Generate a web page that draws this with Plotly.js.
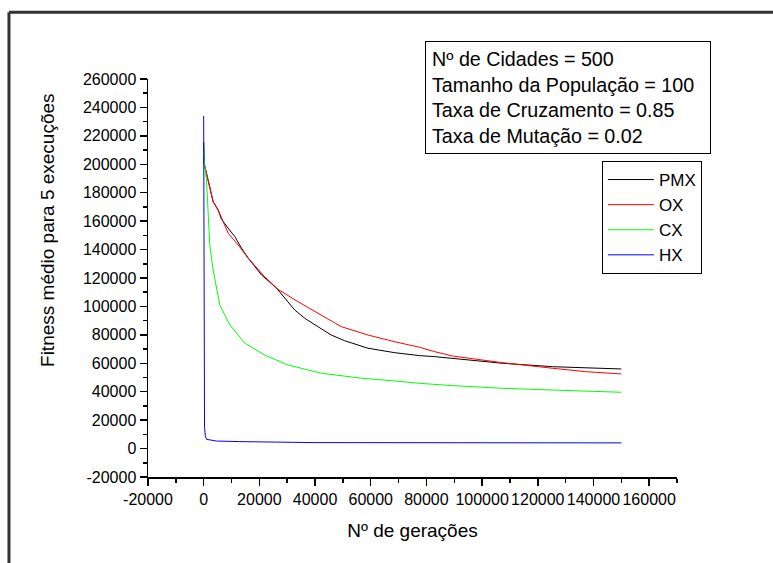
<!DOCTYPE html>
<html>
<head>
<meta charset="utf-8">
<script src="https://cdn.plot.ly/plotly-3.0.1.min.js"></script>
<style>html,body{margin:0;padding:0;background:#fff;}#chart{width:773px;height:563px;}</style>
</head>
<body>
<div id="chart"></div>
<script>
// ---- data ----
const seriesNames = ["PMX", "OX", "CX", "HX"];
const seriesColors = ["#000000", "#ff0000", "#00ff00", "#0000ff"];

const pmxX = [0, 200, 1000, 3400, 5200, 6400, 8800, 11200, 13600, 16000, 20800, 26100, 32700, 36300, 41000, 45800, 50600, 59000, 68500, 77500, 82900, 89400, 107400, 125300, 137200, 150000];
const pmxY = [215500, 200000, 193700, 173700, 167800, 161300, 155000, 149100, 140900, 133900, 122100, 113000, 97500, 91700, 85800, 79900, 75900, 70600, 67500, 65400, 64700, 63500, 60000, 57600, 56900, 56000];

const oxX = [0, 200, 1000, 3400, 5200, 7600, 8800, 12400, 16000, 21900, 26700, 33900, 39200, 42300, 49400, 59000, 68500, 77500, 82900, 89400, 107400, 125300, 137200, 150000];
const oxY = [205300, 200000, 193700, 173700, 167800, 157300, 151500, 143200, 133900, 120900, 112000, 103300, 97500, 94000, 85800, 79900, 75200, 71300, 68200, 65100, 60400, 56500, 54100, 52500];

const cxX = [0, 300, 1000, 1600, 2200, 3400, 5800, 9400, 14800, 21900, 30300, 42300, 56600, 68500, 77500, 89400, 107400, 125300, 150000];
const cxY = [209000, 200000, 189000, 165500, 143000, 125600, 101000, 87000, 74100, 65800, 58800, 53000, 49500, 47600, 45900, 44300, 42400, 41200, 39600];

const hxX = [0, 100, 300, 600, 1040, 4600, 13000, 39200, 150000];
const hxY = [234000, 25000, 15000, 9000, 6500, 5300, 4900, 4200, 4000];

const xTickVals = [-20000, 0, 20000, 40000, 60000, 80000, 100000, 120000, 140000, 160000];
const xTickText = ["-20000", "0", "20000", "40000", "60000", "80000", "100000", "120000", "140000", "160000"];
const yTickVals = [-20000, 0, 20000, 40000, 60000, 80000, 100000, 120000, 140000, 160000, 180000, 200000, 220000, 240000, 260000];
const yTickText = ["-20000", "0", "20000", "40000", "60000", "80000", "100000", "120000", "140000", "160000", "180000", "200000", "220000", "240000", "260000"];

const infoLines = ["Nº de Cidades = 500", "Tamanho da População = 100", "Taxa de Cruzamento = 0.85", "Taxa de Mutação = 0.02"];
const xTitle = "Nº de gerações";
const yTitle = "Fitness médio para 5 execuções";

// ---- chart ----
const xs = [pmxX, oxX, cxX, hxX];
const ys = [pmxY, oxY, cxY, hxY];
const traces = seriesNames.map((n, i) => ({
  x: xs[i], y: ys[i], name: n, type: "scatter", mode: "lines",
  line: {color: seriesColors[i], width: 1}
}));

const font = {family: "Liberation Sans, Arial, sans-serif", color: "#000"};
const axisCommon = {
  showgrid: false, zeroline: false, showline: true, linecolor: "#000", linewidth: 1.5,
  ticks: "outside", ticklen: 7, tickwidth: 1.5, tickcolor: "#000",
  tickfont: {family: font.family, size: 16, color: "#000"},
  tickmode: "array", tickangle: 0,
  minor: {tickmode: "linear", tick0: 0, dtick: 10000, ticks: "outside", ticklen: 4, tickwidth: 1.5, tickcolor: "#000", showgrid: false}
};

const layout = {
  width: 773, height: 563,
  margin: {l: 148, r: 96, t: 79, b: 86},
  paper_bgcolor: "#fff", plot_bgcolor: "#fff",
  font: font,
  showlegend: true,
  legend: {
    x: 0.858, y: 0.794, xanchor: "left", yanchor: "top",
    bordercolor: "#000", borderwidth: 1, bgcolor: "#fff",
    font: {family: font.family, size: 17, color: "#000"},
    itemwidth: 46, tracegroupgap: 0
  },
  xaxis: Object.assign({}, axisCommon, {
    range: [-20000, 170000], tickvals: xTickVals, ticktext: xTickText,
    title: {text: xTitle, font: {family: font.family, size: 19, color: "#000"}, standoff: 17}
  }),
  yaxis: Object.assign({}, axisCommon, {
    range: [-20000, 260000], tickvals: yTickVals, ticktext: yTickText
  }),
  annotations: [
    {
      xref: "paper", yref: "paper", x: 0.5236, y: 1.0955, xanchor: "left", yanchor: "top",
      text: infoLines.join("<br>"), align: "left", showarrow: false, width: 272,
      font: {family: font.family, size: 19.7, color: "#000"},
      bordercolor: "#000", borderwidth: 1, borderpad: 6, bgcolor: "#fff"
    },
    {
      xref: "paper", yref: "paper", x: -0.191, y: 0.6206, xanchor: "center", yanchor: "middle",
      text: yTitle, textangle: -90, showarrow: false,
      font: {family: font.family, size: 19, color: "#000"}
    }
  ],
  shapes: [
    {type: "line", xref: "paper", yref: "paper", x0: -0.2628, x1: 1.3, y0: 1.168, y1: 1.168, line: {color: "#333", width: 3}},
    {type: "line", xref: "paper", yref: "paper", x0: -0.2628, x1: -0.2628, y0: 1.168, y1: -0.3, line: {color: "#333", width: 3}}
  ]
};

Plotly.newPlot("chart", traces, layout, {displayModeBar: false, staticPlot: true});
</script>
</body>
</html>
